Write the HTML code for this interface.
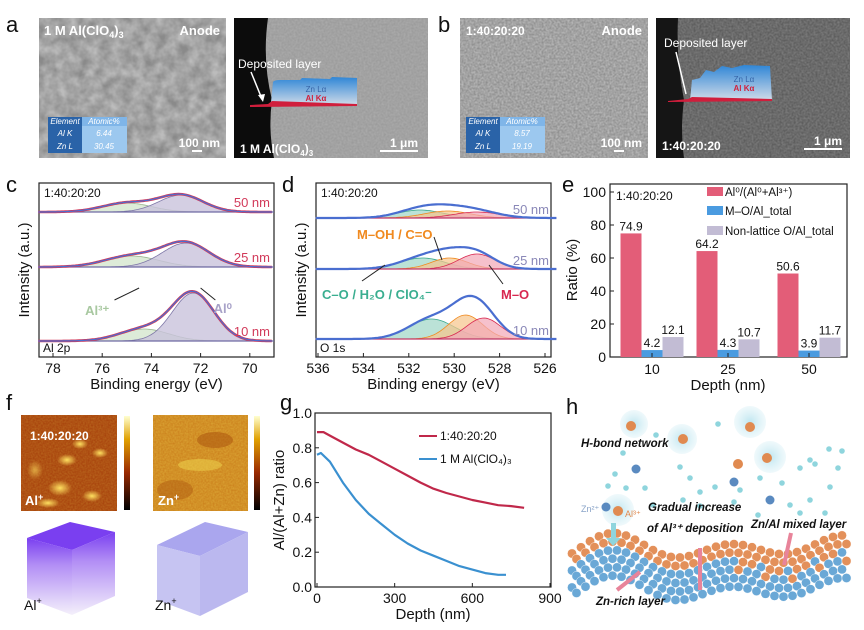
<!DOCTYPE html>
<html><head><meta charset="utf-8"><style>
body{margin:0;background:#fff}
svg{display:block;font-family:"Liberation Sans",Arial,sans-serif}
</style></head><body>
<svg id="fig" width="864" height="630" viewBox="0 0 864 630" xmlns="http://www.w3.org/2000/svg">
<defs>
<filter id="sem" x="0" y="0" width="100%" height="100%"><feTurbulence type="fractalNoise" baseFrequency="0.09" numOctaves="3" seed="3"/><feColorMatrix type="matrix" values="0 0 0 0 0.5  0 0 0 0 0.5  0 0 0 0 0.5  0 0 0 1.6 -0.3"/></filter>
<filter id="noise2" x="0" y="0" width="100%" height="100%"><feTurbulence type="fractalNoise" baseFrequency="0.5" numOctaves="2" seed="8"/><feColorMatrix type="matrix" values="0 0 0 0 0.55  0 0 0 0 0.55  0 0 0 0 0.55  0 0 0 1.2 -0.2"/></filter>
<filter id="grain" x="0" y="0" width="100%" height="100%"><feTurbulence type="fractalNoise" baseFrequency="0.6" numOctaves="1" seed="5"/><feColorMatrix type="matrix" values="0 0 0 0 0.9  0 0 0 0 0.7  0 0 0 0 0.1  0 0 0 0.6 0"/></filter>
<linearGradient id="blueArea" x1="0" y1="0" x2="0" y2="1"><stop offset="0" stop-color="#2f86d6"/><stop offset="1" stop-color="#cfdbe8"/></linearGradient>
<linearGradient id="cbarAl" x1="0" y1="1" x2="0" y2="0"><stop offset="0" stop-color="#000"/><stop offset="0.4" stop-color="#9a2a00"/><stop offset="0.75" stop-color="#e0a000"/><stop offset="1" stop-color="#ffffd0"/></linearGradient>
<linearGradient id="cube1" x1="0" y1="0" x2="0" y2="1"><stop offset="0" stop-color="#7a3ff0"/><stop offset="0.35" stop-color="#b28ef5"/><stop offset="1" stop-color="#f4f0fb"/></linearGradient>
<radialGradient id="blob" cx="0.5" cy="0.5" r="0.5"><stop offset="0" stop-color="#ffe060"/><stop offset="1" stop-color="#ffe060" stop-opacity="0"/></radialGradient>
<radialGradient id="halo" cx="0.5" cy="0.5" r="0.5"><stop offset="0" stop-color="#bfe6f0"/><stop offset="1" stop-color="#d8f0f6" stop-opacity="0.4"/></radialGradient>
</defs>

<g font-size="22" fill="#111">
<text x="6" y="32">a</text>
<text x="438" y="32">b</text>
<text x="6" y="192">c</text>
<text x="282" y="192">d</text>
<text x="562" y="192">e</text>
<text x="6" y="410">f</text>
<text x="280" y="410">g</text>
<text x="566" y="414">h</text>
</g>

<g>
<rect x="39" y="18" width="187" height="140" fill="#8a8a8a"/>
<rect x="39" y="18" width="187" height="140" filter="url(#sem)"/>
<text x="44" y="35" font-size="13" font-weight="bold" fill="#fff">1 M Al(ClO<tspan font-size="9" dy="3">4</tspan><tspan dy="-3">)</tspan><tspan font-size="9" dy="3">3</tspan></text>
<text x="220" y="35" font-size="13" font-weight="bold" fill="#fff" text-anchor="end">Anode</text>
<g font-size="8" font-style="italic" fill="#fff" text-anchor="middle">
<rect x="48" y="117" width="34" height="9" fill="#2a63a8"/><rect x="82" y="117" width="45" height="9" fill="#7fb5e8"/>
<rect x="48" y="126" width="34" height="14" fill="#2a63a8"/><rect x="82" y="126" width="45" height="14" fill="#9cc8ef"/>
<rect x="48" y="140" width="34" height="13" fill="#2a63a8"/><rect x="82" y="140" width="45" height="13" fill="#9cc8ef"/>
<text x="65" y="124">Element</text><text x="104" y="124">Atomic%</text>
<text x="65" y="136">Al K</text><text x="104" y="136">6.44</text>
<text x="65" y="149">Zn L</text><text x="104" y="149">30.45</text>
</g>
<text x="220" y="147" font-size="12" font-weight="bold" fill="#fff" text-anchor="end">100 nm</text>
<rect x="192" y="150" width="10" height="2" fill="#fff"/>
</g>
<g>
<rect x="234" y="18" width="194" height="140" fill="#9a9a9a"/>
<rect x="234" y="18" width="194" height="140" filter="url(#noise2)" opacity="0.5"/>
<path d="M234 18 L268 18 Q262 60 272 100 Q268 130 274 158 L234 158Z" fill="#0c0c0c"/>
<path d="M271 102 L273 82 Q274 80 280 80 L300 80 L302 78 L330 79 L332 77 L357 78 L357 105 L271 105Z" fill="url(#blueArea)"/>
<path d="M250 105 L268 104 L272 101 L357 104 L357 106 L250 107Z" fill="#d01e3c"/>
<text x="238" y="68" font-size="12" fill="#fff">Deposited layer</text>
<line x1="251" y1="72" x2="262" y2="99" stroke="#fff" stroke-width="1.5"/>
<path d="M263 102 L258 95 L265 94Z" fill="#fff"/>
<text x="316" y="92" font-size="8" fill="#3765a8" text-anchor="middle">Zn Lα</text>
<text x="316" y="101" font-size="8" font-weight="bold" fill="#d0203c" text-anchor="middle">Al Kα</text>
<text x="240" y="153" font-size="12" font-weight="bold" fill="#fff">1 M Al(ClO<tspan font-size="8" dy="3">4</tspan><tspan dy="-3">)</tspan><tspan font-size="8" dy="3">3</tspan></text>
<text x="418" y="147" font-size="12" font-weight="bold" fill="#fff" text-anchor="end">1 μm</text>
<rect x="380" y="150" width="38" height="2" fill="#fff"/>
</g>

<g>
<rect x="460" y="18" width="188" height="140" fill="#8c8c8c"/>
<rect x="460" y="18" width="188" height="140" filter="url(#noise2)"/>
<text x="466" y="35" font-size="12" font-weight="bold" fill="#fff">1:40:20:20</text>
<text x="642" y="35" font-size="13" font-weight="bold" fill="#fff" text-anchor="end">Anode</text>
<g font-size="8" font-style="italic" fill="#fff" text-anchor="middle">
<rect x="466" y="117" width="34" height="9" fill="#2a63a8"/><rect x="500" y="117" width="45" height="9" fill="#7fb5e8"/>
<rect x="466" y="126" width="34" height="14" fill="#2a63a8"/><rect x="500" y="126" width="45" height="14" fill="#9cc8ef"/>
<rect x="466" y="140" width="34" height="13" fill="#2a63a8"/><rect x="500" y="140" width="45" height="13" fill="#9cc8ef"/>
<text x="483" y="124">Element</text><text x="522" y="124">Atomic%</text>
<text x="483" y="136">Al K</text><text x="522" y="136">8.57</text>
<text x="483" y="149">Zn L</text><text x="522" y="149">19.19</text>
</g>
<text x="642" y="147" font-size="12" font-weight="bold" fill="#fff" text-anchor="end">100 nm</text>
<rect x="614" y="150" width="10" height="2" fill="#fff"/>
</g>
<g>
<rect x="656" y="18" width="194" height="140" fill="#5a5a5a"/>
<rect x="656" y="18" width="194" height="140" filter="url(#noise2)" opacity="0.4"/>
<path d="M656 18 L678 18 Q676 60 684 100 Q680 130 684 158 L656 158Z" fill="#151515"/>
<path d="M690 100 L692 80 L700 78 L706 70 L714 72 L722 66 L732 68 L744 65 L770 66 L772 100Z" fill="url(#blueArea)"/>
<path d="M668 101 L688 99 L692 97 L772 99 L772 101 L668 102Z" fill="#d01e3c"/>
<text x="664" y="47" font-size="12" fill="#fff">Deposited layer</text>
<line x1="676" y1="52" x2="686" y2="94" stroke="#fff" stroke-width="1.5"/>
<text x="744" y="82" font-size="8" fill="#3765a8" text-anchor="middle">Zn Lα</text>
<text x="744" y="91" font-size="8" font-weight="bold" fill="#d0203c" text-anchor="middle">Al Kα</text>
<text x="662" y="150" font-size="12" font-weight="bold" fill="#fff">1:40:20:20</text>
<text x="842" y="145" font-size="12" font-weight="bold" fill="#fff" text-anchor="end">1 μm</text>
<rect x="804" y="148" width="38" height="2" fill="#fff"/>
</g>

<g id="panelC"></g>
<g id="panelD"></g>
<g id="panelE"></g>

<g>
<g>
<rect x="21" y="415" width="96" height="96" fill="#a33a08"/>
<rect x="21" y="415" width="96" height="96" filter="url(#grain)" opacity="0.5"/>
<ellipse cx="67" cy="460" rx="10" ry="6" fill="url(#blob)"/>
<ellipse cx="60" cy="488" rx="12" ry="8" fill="url(#blob)"/>
<ellipse cx="80" cy="444" rx="8" ry="5" fill="url(#blob)"/>
<ellipse cx="100" cy="453" rx="8" ry="5" fill="url(#blob)"/>
<ellipse cx="92" cy="496" rx="10" ry="6" fill="url(#blob)"/>
<ellipse cx="48" cy="503" rx="12" ry="5" fill="url(#blob)"/>
<ellipse cx="35" cy="470" rx="8" ry="10" fill="url(#blob)" opacity="0.6"/>
<text x="30" y="440" font-size="12" font-weight="bold" fill="#fff">1:40:20:20</text>
<text x="25" y="505" font-size="13" font-weight="bold" fill="#fff">Al<tspan font-size="9" dy="-5">+</tspan></text>
<rect x="124" y="416" width="6" height="94" fill="url(#cbarAl)"/>
</g>
<g>
<rect x="153" y="415" width="95" height="96" fill="#c87a18"/>
<rect x="153" y="415" width="95" height="96" filter="url(#grain)" opacity="0.8"/>
<ellipse cx="215" cy="440" rx="18" ry="8" fill="#a8500c" opacity="0.5"/>
<ellipse cx="200" cy="465" rx="22" ry="6" fill="#f0d850" opacity="0.5"/>
<ellipse cx="175" cy="490" rx="18" ry="10" fill="#a8500c" opacity="0.4"/>
<text x="158" y="505" font-size="13" font-weight="bold" fill="#fff">Zn<tspan font-size="9" dy="-5">+</tspan></text>
<rect x="254" y="416" width="6" height="94" fill="url(#cbarAl)"/>
</g>
<g>
<polygon points="27,538 70,522 115,532 72,550" fill="#7a3ff0"/>
<polygon points="27,538 72,550 72,615 27,598" fill="url(#cube1)"/>
<polygon points="72,550 115,532 115,596 72,615" fill="url(#cube1)"/>
<text x="24" y="610" font-size="14" fill="#111">Al<tspan font-size="9" dy="-6">+</tspan></text>
</g>
<g>
<polygon points="157,545 205,522 248,532 200,556" fill="#aaa6ee"/>
<polygon points="157,545 200,556 200,616 157,600" fill="#c6c4f2"/>
<polygon points="200,556 248,532 248,592 200,616" fill="#bbb8ef"/>
<text x="155" y="610" font-size="14" fill="#111">Zn<tspan font-size="9" dy="-6">+</tspan></text>
</g>
</g>

<g id="panelG"></g>
<g id="panelH"></g>
</svg>

<script>
var NS="http://www.w3.org/2000/svg";
function mk(tag,attrs,parent,txt){var e=document.createElementNS(NS,tag);for(var k in attrs)e.setAttribute(k,attrs[k]);if(txt!==undefined)e.textContent=txt;parent.appendChild(e);return e;}

var cDepths=["50 nm","25 nm","10 nm"];
var cAl3Center=[75.0,74.8,74.3];
var cAl3Amp=[9,11,12];
var cAl3Width=[1.0,1.1,1.0];
var cAl0Center=[72.8,72.6,72.3];
var cAl0Amp=[17,24,48];
var cAl0Width=[0.9,0.95,0.85];
var cTicks=[78,76,74,72,70];

var dDepths=["50 nm","25 nm","10 nm"];
var dCOCenter=[531.5,531.4,531.0];
var dCOAmp=[8,11,20];
var dMOHCenter=[530.3,530.2,529.5];
var dMOHAmp=[7,11,24];
var dMOCenter=[529.0,529.0,528.7];
var dMOAmp=[6,15,21];
var dWidth=[1.0,0.8,0.75];
var dTicks=[536,534,532,530,528,526];

var eCategories=["10","25","50"];
var eAl0=[74.9,64.2,50.6];
var eMO=[4.2,4.3,3.9];
var eNonLattice=[12.1,10.7,11.7];
var eTicks=[0,20,40,60,80,100];

var gDepthRed=[0,25,50,100,150,200,250,300,350,400,450,500,550,600,650,700,750,800];
var gRatioRed=[0.89,0.89,0.87,0.83,0.79,0.76,0.72,0.68,0.64,0.60,0.565,0.54,0.52,0.50,0.485,0.47,0.465,0.455];
var gDepthBlue=[0,15,50,100,150,200,250,300,350,400,450,500,550,600,650,700,730];
var gRatioBlue=[0.76,0.77,0.72,0.60,0.50,0.42,0.36,0.30,0.25,0.21,0.18,0.15,0.12,0.10,0.08,0.07,0.07];
var gXTicks=[0,300,600,900];
var gYTicks=[0.0,0.2,0.4,0.6,0.8,1.0];

function gauss(x,c,a,w){return a*Math.exp(-(x-c)*(x-c)/(2*w*w));}

function xpsFrame(g,x0,x1,y0,y1,ticks,Emax,Emin,xs){
  mk('rect',{x:x0,y:y0,width:x1-x0,height:y1-y0,fill:'none',stroke:'#222','stroke-width':1.2},g);
  ticks.forEach(function(t){
    var x=xs(t);
    mk('line',{x1:x,x2:x,y1:y1,y2:y1-4,stroke:'#222'},g);
    var tl=mk('text',{x:x,y:y1+16,'font-size':14,'text-anchor':'middle',fill:'#111'},g,String(t));
    
    
  });
  var xt=mk('text',{x:(x0+x1)/2,y:y1+32,'font-size':15,'text-anchor':'middle',fill:'#111'},g,'Binding energy (eV)');
  
  
  var yt=mk('text',{x:0,y:0,'font-size':15,'text-anchor':'middle',fill:'#111',transform:'translate('+(x0-10)+','+((y0+y1)/2)+') rotate(-90)'},g,'Intensity (a.u.)');
  
  
  mk('text',{x:x0+5,y:y0+14,'font-size':12,fill:'#111'},g,'1:40:20:20');
}

function areaPath(xs,base,fn,Emax,Emin){
  var d='',n=120;
  for(var i=0;i<=n;i++){var E=Emax-(Emax-Emin)*i/n;d+=(i?'L':'M')+xs(E).toFixed(1)+' '+(base-fn(E)).toFixed(1);}
  return d;
}

(function(){
  var g=document.getElementById('panelC');
  var x0=39,x1=274,y0=183,y1=357,Emax=78.6,Emin=69.1;
  function xs(E){return 53+(78-E)*24.6;}
  var bases=[212,267,341];
  xpsFrame(g,x0,x1,y0,y1,cTicks,Emax,Emin,xs);
  mk('text',{x:x0+4,y:y1-5,'font-size':12,fill:'#111'},g,'Al 2p');
  for(var k=0;k<3;k++){
    var b=bases[k];
    var f3=function(E){return gauss(E,cAl3Center[k],cAl3Amp[k],cAl3Width[k]);};
    var f0=function(E){return gauss(E,cAl0Center[k],cAl0Amp[k],cAl0Width[k]);};
    var p3=mk('path',{d:areaPath(xs,b,f3,Emax,Emin),fill:'#cfe3c8','fill-opacity':0.7,stroke:'#9ab590','stroke-width':0.8},g);
    
    var p0=mk('path',{d:areaPath(xs,b,f0,Emax,Emin),fill:'#c9c3dc','fill-opacity':0.8,stroke:'#7f78a8','stroke-width':0.8},g);
    
    mk('line',{x1:x0,x2:x1,y1:b,y2:b,stroke:'#6f6aa3','stroke-width':1.2},g);
    var env=mk('path',{d:areaPath(xs,b,function(E){return f3(E)+f0(E);},Emax,Emin),fill:'none',stroke:'#d23a5a','stroke-width':2.6},g);
    
    mk('path',{d:areaPath(xs,b,function(E){return f3(E)+f0(E);},Emax,Emin),fill:'none',stroke:'#4a6ed0','stroke-width':1.2},g);
    mk('text',{x:x1-4,y:b-5,'font-size':13,'text-anchor':'end',fill:'#d23a5a'},g,cDepths[k]);
  }
  mk('line',{x1:xs(74.5),y1:288,x2:xs(75.5),y2:300,stroke:'#222'},g);
  mk('line',{x1:xs(72.0),y1:288,x2:xs(71.4),y2:300,stroke:'#222'},g);
  mk('text',{x:xs(76.2),y:315,'font-size':13,'font-weight':'bold',fill:'#a8c8a0','text-anchor':'middle'},g,'Al³⁺');
  mk('text',{x:xs(71.1),y:313,'font-size':13,'font-weight':'bold',fill:'#a8a2c8','text-anchor':'middle'},g,'Al⁰');
})();

(function(){
  var g=document.getElementById('panelD');
  var x0=316,x1=551,y0=183,y1=357,Emax=536.1,Emin=525.5;
  function xs(E){return 318+(536-E)*22.7;}
  var bases=[218,269,339];
  xpsFrame(g,x0,x1,y0,y1,dTicks,Emax,Emin,xs);
  mk('text',{x:x0+4,y:y1-5,'font-size':12,fill:'#111'},g,'O 1s');
  for(var k=0;k<3;k++){
    var b=bases[k],w=dWidth[k];
    var fa=function(E){return gauss(E,dCOCenter[k],dCOAmp[k],1.0);};
    var fb=function(E){return gauss(E,dMOHCenter[k],dMOHAmp[k],w);};
    var fc=function(E){return gauss(E,dMOCenter[k],dMOAmp[k],w);};
    var pa=mk('path',{d:areaPath(xs,b,fa,Emax,Emin),fill:'#9ed6c6','fill-opacity':0.7,stroke:'#3aa88c','stroke-width':0.8},g);
    
    var pb=mk('path',{d:areaPath(xs,b,fb,Emax,Emin),fill:'#f7c48a','fill-opacity':0.7,stroke:'#f08a20','stroke-width':0.8},g);
    
    var pc=mk('path',{d:areaPath(xs,b,fc,Emax,Emin),fill:'#f2a6b6','fill-opacity':0.7,stroke:'#d82850','stroke-width':0.8},g);
    
    mk('line',{x1:x0,x2:x1,y1:b,y2:b,stroke:'#c03868','stroke-width':1.2},g);
    var env=mk('path',{d:areaPath(xs,b,function(E){return fa(E)+fb(E)+fc(E);},Emax,Emin),fill:'none',stroke:'#4a6ed0','stroke-width':2.2},g);
    
    mk('text',{x:x1-2,y:b-4,'font-size':13,'text-anchor':'end',fill:'#8a88b8'},g,dDepths[k]);
  }
  mk('text',{x:357,y:239,'font-size':13,'font-weight':'bold',fill:'#f08a20'},g,'M–OH / C=O');
  mk('text',{x:322,y:299,'font-size':13,'font-weight':'bold',fill:'#3aae90'},g,'C–O / H₂O / ClO₄⁻');
  mk('text',{x:501,y:299,'font-size':13,'font-weight':'bold',fill:'#d82850'},g,'M–O');
  mk('line',{x1:442,y1:260,x2:434,y2:237,stroke:'#222'},g);
  mk('line',{x1:385,y1:265,x2:362,y2:281,stroke:'#222'},g);
  mk('line',{x1:489,y1:265,x2:503,y2:284,stroke:'#222'},g);
})();

(function(){
  var g=document.getElementById('panelE');
  var x0=610,x1=847,y0=184,y1=357;
  function ys(v){return 357-v*1.65;}
  var cx=[652,728,809];
  mk('rect',{x:x0,y:y0,width:x1-x0,height:y1-y0,fill:'none',stroke:'#222','stroke-width':1.2},g);
  eTicks.forEach(function(t){
    var y=ys(t);
    mk('line',{x1:x0,x2:x0+4,y1:y,y2:y,stroke:'#222'},g);
    var tl=mk('text',{x:x0-4,y:y+5,'font-size':14,'text-anchor':'end',fill:'#111'},g,String(t));
    
    
  });
  var series=[eAl0,eMO,eNonLattice],cols=['#e35d78','#4a9be0','#c2bcd4'],names=['bar-al0-ratio','bar-mo-ratio','bar-nonlattice-ratio'];
  for(var i=0;i<eCategories.length;i++){
    for(var s=0;s<3;s++){
      var v=series[s][i],bx=cx[i]-31.5+s*21;
      var r=mk('rect',{x:bx,y:ys(v),width:21,height:ys(0)-ys(v),fill:cols[s]},g);
      
      
      mk('text',{x:bx+10.5,y:ys(v)-3,'font-size':12,'text-anchor':'middle',fill:'#111'},g,v.toFixed(1));
    }
    var xl=mk('text',{x:cx[i],y:y1+17,'font-size':14,'text-anchor':'middle',fill:'#111'},g,eCategories[i]);
    
    
    mk('line',{x1:cx[i],x2:cx[i],y1:y1,y2:y1-4,stroke:'#222'},g);
  }
  var xt=mk('text',{x:728,y:y1+33,'font-size':15,'text-anchor':'middle',fill:'#111'},g,'Depth (nm)');
  
  var yt=mk('text',{x:0,y:0,'font-size':15,'text-anchor':'middle',fill:'#111',transform:'translate(577,270) rotate(-90)'},g,'Ratio (%)');
  
  mk('text',{x:x0+6,y:200,'font-size':12,fill:'#111'},g,'1:40:20:20');
  var leg=['Al⁰/(Al⁰+Al³⁺)','M–O/Al_total','Non-lattice O/Al_total'],ly=[192,211,231];
  for(var j=0;j<3;j++){
    var sw=mk('rect',{x:707,y:ly[j]-5,width:16,height:9,fill:cols[j]},g);
    
    var lt=mk('text',{x:725,y:ly[j]+4,'font-size':11.5,fill:'#111'},g,leg[j]);
    
    
  }
})();

(function(){
  var g=document.getElementById('panelG');
  var x0=315,x1=551,y0=413,y1=587;
  function xs(v){return 317+v*(550-317)/900;}
  function ys(v){return 587-v*174;}
  mk('rect',{x:x0,y:y0,width:x1-x0,height:y1-y0,fill:'none',stroke:'#222','stroke-width':1.2},g);
  gXTicks.forEach(function(t){
    var x=xs(t);
    mk('line',{x1:x,x2:x,y1:y1,y2:y1-4,stroke:'#222'},g);
    var tl=mk('text',{x:x,y:y1+16,'font-size':14,'text-anchor':'middle',fill:'#111'},g,String(t));
    
    
  });
  gYTicks.forEach(function(t){
    var y=ys(t);
    mk('line',{x1:x0,x2:x0+4,y1:y,y2:y,stroke:'#222'},g);
    var tl=mk('text',{x:x0-3,y:y+5,'font-size':14,'text-anchor':'end',fill:'#111'},g,t.toFixed(1));
    
    
  });
  var xt=mk('text',{x:433,y:y1+32,'font-size':15,'text-anchor':'middle',fill:'#111'},g,'Depth (nm)');
  
  var yt=mk('text',{x:0,y:0,'font-size':15,'text-anchor':'middle',fill:'#111',transform:'translate(284,500) rotate(-90)'},g,'Al/(Al+Zn) ratio');
  
  function line(X,Y,col,name){
    var d='';for(var i=0;i<X.length;i++)d+=(i?'L':'M')+xs(X[i]).toFixed(1)+' '+ys(Y[i]).toFixed(1);
    var p=mk('path',{d:d,fill:'none',stroke:col,'stroke-width':2.2,'stroke-linejoin':'round'},g);
    
    
  }
  line(gDepthRed,gRatioRed,'#c0284a','series-1-40-20-20');
  line(gDepthBlue,gRatioBlue,'#3a90d0','series-1m-al-clo4');
  mk('line',{x1:419,x2:437,y1:436,y2:436,stroke:'#c0284a','stroke-width':2},g);
  var l1=mk('text',{x:440,y:440,'font-size':12,fill:'#111'},g,'1:40:20:20');
  
  mk('line',{x1:419,x2:437,y1:459,y2:459,stroke:'#3a90d0','stroke-width':2},g);
  var l2=mk('text',{x:440,y:463,'font-size':12,fill:'#111'},g,'1 M Al(ClO₄)₃');
  
})();

(function(){
  var g=document.getElementById('panelH');
  var halos=[[634,424,14],[682,439,15],[750,422,16],[770,457,16],[618,510,16]];
  halos.forEach(function(h){mk('circle',{cx:h[0],cy:h[1],r:h[2],fill:'url(#halo)'},g);});
  var orangeIons=[[631,426],[683,439],[750,427],[767,458],[738,464],[618,511]];
  orangeIons.forEach(function(p){mk('circle',{cx:p[0],cy:p[1],r:5,fill:'#e08a50'},g);});
  var blueIons=[[636,469],[734,482],[770,500],[606,507]];
  blueIons.forEach(function(p){mk('circle',{cx:p[0],cy:p[1],r:4.5,fill:'#5a8ac0'},g);});
  var small=[[718,424],[656,435],[623,453],[680,467],[615,474],[645,488],[690,478],[700,492],[715,487],[740,490],[760,478],[782,483],[800,468],[810,460],[829,449],[838,468],[815,464],[830,487],[608,486],[626,488],[653,505],[683,500],[700,506],[734,502],[758,515],[790,505],[810,500],[842,451],[825,513],[800,513]];
  small.forEach(function(p){mk('circle',{cx:p[0],cy:p[1],r:2.8,fill:'#8fd5dd'},g);});
  function surf(x){return 548-12*Math.sin((x-580)/60*Math.PI/1.0)*0.8-6*Math.sin((x-580)/30);}
  for(var row=0;row<6;row++){
    for(var x=572;x<846;x+=9){
      var xx=x+(row%2)*4.5, top=surf(xx), y=top+row*8.5;
      if(y>615) continue;
      var orange=(row<2)||(row<4&&xx>730&&((xx+row*7)%27<12));
      mk('circle',{cx:xx,cy:y,r:4.6,fill:orange?'#e3905a':'#6aa8d6',stroke:'#fff','stroke-width':0.4},g);
    }
  }
  mk('rect',{x:611,y:523,width:5,height:16,fill:'#8fd5dd'},g);
  mk('path',{d:'M606 538 L621 538 L613 546Z',fill:'#8fd5dd'},g);
  mk('line',{x1:700,y1:590,x2:700,y2:548,stroke:'#e8849a','stroke-width':4},g);
  mk('line',{x1:617,y1:590,x2:640,y2:572,stroke:'#e8849a','stroke-width':4},g);
  mk('line',{x1:791,y1:533,x2:784,y2:565,stroke:'#e8849a','stroke-width':4},g);
  var tx=[['H-bond network',581,447],['Gradual increase',648,511],['of Al³⁺ deposition',647,532],['Zn/Al mixed layer',751,528],['Zn-rich layer',596,605]];
  tx.forEach(function(t){var e=mk('text',{x:t[1],y:t[2],'font-size':11.5,'font-weight':'bold','font-style':'italic',fill:'#111'},g,t[0]);});
  mk('text',{x:581,y:512,'font-size':9,fill:'#8aa4c8'},g,'Zn²⁺');
  mk('text',{x:625,y:517,'font-size':9,fill:'#e08a50'},g,'Al³⁺');
})();
</script>
</body></html>
